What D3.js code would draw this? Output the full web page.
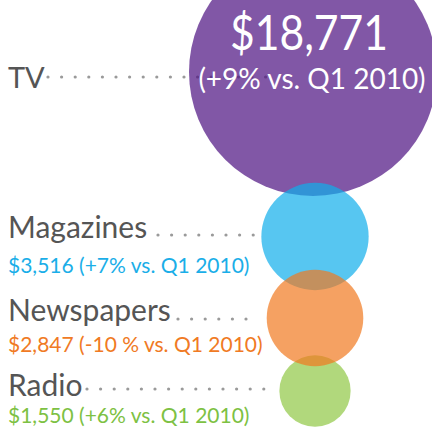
<!DOCTYPE html>
<html><head><meta charset="utf-8">
<script src="https://cdn.jsdelivr.net/npm/d3@7"></script>
<style>
html,body{margin:0;padding:0;background:#fff;}
svg{display:block;}
text{font-family:Lato,"Open Sans",sans-serif;}
</style></head>
<body>
<script>
// ---- data ----
const categories = ["TV", "Magazines", "Newspapers", "Radio"];
const spend = [18771, 3516, 2847, 1550];
const changeText = ["+9%", "+7%", "-10 %", "+6%"];
const spendLabels = ["$18,771", "$3,516", "$2,847", "$1,550"];
const period = "vs. Q1 2010";

// ---- layout / style ----
const W = 432, H = 435;
const colors = ["#4c0f80", "#10aeeb", "#f1791f", "#90c744"];
const textColors = ["#ffffff", "#1aaee8", "#f07a24", "#7dc143"];
const cx = 315;
const cy = [72, 236.5, 318, 391];
const labelBase = [88, 238, 321, 396];
const valueBase = [null, 273, 352, 423];
const dotY = [77, 235, 319, 389];
const dotX0 = [48, 158, 178, 87];
const dotX1 = [266, 255, 250, 266];
const drawOrder = [0, 1, 3, 2];

const svg = d3.select("body").append("svg").attr("width", W).attr("height", H);

const r = d3.scaleSqrt().domain([0, d3.max(spend)]).range([0, 124]);

// dotted leaders (under circles)
categories.forEach((c, i) => {
  const n = Math.round((dotX1[i] - dotX0[i]) / 13.6);
  const xs = d3.range(n + 1).map(k => dotX0[i] + k * 13.6);
  svg.append("g").selectAll("circle").data(xs).join("circle")
    .attr("cx", d => d).attr("cy", dotY[i]).attr("r", 1.6).attr("fill", "#9a9a9a");
});

// bubbles
svg.append("g").selectAll("circle").data(drawOrder).join("circle")
  .attr("cx", i => i === 0 ? 313 : cx)
  .attr("cy", i => cy[i])
  .attr("r", i => r(spend[i]))
  .attr("fill", i => colors[i])
  .attr("fill-opacity", 0.7);

// labels
categories.forEach((c, i) => {
  svg.append("text").attr("x", 8).attr("y", labelBase[i])
    .attr("font-size", i === 0 ? 29 : 30).attr("fill", "#555555").text(c);
  if (i > 0) {
    svg.append("text").attr("x", 8).attr("y", valueBase[i])
      .attr("font-size", 21).attr("fill", textColors[i])
      .text(`${spendLabels[i]} (${changeText[i]} vs. Q1 2010)`);
  }
});

// TV value inside bubble
svg.append("text").attr("x", 309).attr("y", 50).attr("text-anchor", "middle")
  .attr("font-size", 49).attr("fill", "#fff")
  .attr("textLength", 158).attr("lengthAdjust", "spacingAndGlyphs")
  .text(spendLabels[0]);
svg.append("text").attr("x", 312).attr("y", 89).attr("text-anchor", "middle")
  .attr("font-size", 28).attr("fill", "#fff")
  .text(`(${changeText[0]} ${period})`);
</script>
</body></html>
